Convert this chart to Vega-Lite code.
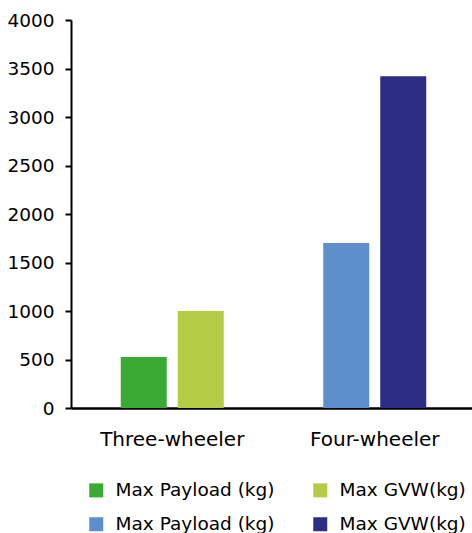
{
  "$schema": "https://vega.github.io/schema/vega-lite/v6.json",
  "width": 405,
  "height": 388,
  "autosize": "none",
  "padding": {"left": 71, "top": 20, "right": 0, "bottom": 125},
  "background": "white",
  "config": {"view": {"stroke": null}, "font": "DejaVu Sans"},
  "data": {
    "values": [
      {"vehicle": "Three-wheeler", "measure": "Payload", "series": "P3", "value": 525},
      {"vehicle": "Three-wheeler", "measure": "GVW", "series": "G3", "value": 1000},
      {"vehicle": "Four-wheeler", "measure": "Payload", "series": "P4", "value": 1700},
      {"vehicle": "Four-wheeler", "measure": "GVW", "series": "G4", "value": 3420}
    ]
  },
  "mark": {"type": "bar"},
  "encoding": {
    "x": {
      "field": "vehicle",
      "type": "nominal",
      "sort": ["Three-wheeler", "Four-wheeler"],
      "scale": {"paddingInner": 0, "paddingOuter": 0},
      "axis": {
        "title": null,
        "ticks": false,
        "labelAngle": 0,
        "labelFontSize": 20,
        "labelColor": "black",
        "labelPadding": 21,
        "domainColor": "black",
        "domainWidth": 2.5
      }
    },
    "xOffset": {
      "field": "measure",
      "type": "nominal",
      "sort": ["Payload", "GVW"],
      "scale": {"paddingInner": 0.193, "paddingOuter": 0.873}
    },
    "y": {
      "field": "value",
      "type": "quantitative",
      "scale": {"domain": [0, 4000], "nice": false},
      "axis": {
        "title": null,
        "grid": false,
        "format": "d",
        "values": [0, 500, 1000, 1500, 2000, 2500, 3000, 3500, 4000],
        "labelFontSize": 18.5,
        "labelColor": "black",
        "labelPadding": 11,
        "tickSize": 6,
        "tickWidth": 2,
        "tickColor": "black",
        "domainColor": "black",
        "domainWidth": 2
      }
    },
    "color": {
      "field": "series",
      "type": "nominal",
      "scale": {
        "domain": ["P3", "G3", "P4", "G4"],
        "range": ["#3aaa35", "#b3cb45", "#5d8fcc", "#2e2d84"]
      },
      "legend": {
        "title": null,
        "orient": "none",
        "legendX": 16,
        "legendY": 461,
        "direction": "horizontal",
        "columns": 2,
        "columnPadding": 36,
        "rowPadding": 15,
        "padding": 0,
        "symbolType": "square",
        "symbolSize": 196,
        "symbolStrokeWidth": 0,
        "labelFontSize": 18.5,
        "labelColor": "black",
        "labelOffset": 10,
        "labelLimit": 400,
        "labelExpr": "(datum.label == 'P3' || datum.label == 'P4') ? 'Max Payload (kg)' : 'Max GVW(kg)'"
      }
    }
  }
}
